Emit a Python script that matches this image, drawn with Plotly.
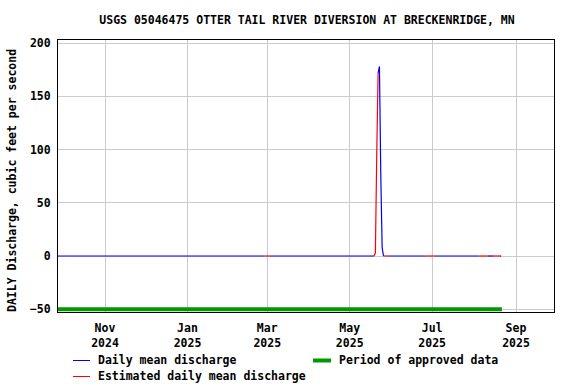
import plotly.graph_objects as go

# ---- data ----
blue_dates = ["2024-09-26", "2025-02-27", "2025-02-27", "2025-03-03", "2025-05-19", "2025-05-19",
              "2025-05-22", "2025-05-23", "2025-05-24", "2025-05-25", "2025-05-26", "2025-05-26",
              "2025-05-30", "2025-06-27", "2025-06-27", "2025-07-03", "2025-08-05", "2025-08-05",
              "2025-08-11", "2025-08-15", "2025-08-15", "2025-08-20", "2025-08-21"]
blue_values = [0, 0, None, 0, 0, None,
               172, 178, 75, 8, 0, None,
               0, 0, None, 0, 0, None,
               0, 0, None, 0, 0]

red_dates = ["2025-02-27", "2025-03-03", "2025-03-03",
             "2025-05-19", "2025-05-20", "2025-05-21", "2025-05-22", "2025-05-22",
             "2025-05-26", "2025-05-30", "2025-05-30",
             "2025-06-27", "2025-07-03", "2025-07-03",
             "2025-08-05", "2025-08-11", "2025-08-11",
             "2025-08-15", "2025-08-20"]
red_values = [0, 0, None,
              0, 3, 95, 172, None,
              0, 0, None,
              0, 0, None,
              0, 0, None,
              0, 0]

approved_dates = ["2024-09-26", "2025-08-21 14:00"]
approved_values = [-50, -50]

tick_dates = ["2024-11-01", "2025-01-01", "2025-03-01", "2025-05-01", "2025-07-01", "2025-09-01"]
tick_labels = ["Nov<br>2024", "Jan<br>2025", "Mar<br>2025", "May<br>2025", "Jul<br>2025", "Sep<br>2025"]
y_ticks = [-50, 0, 50, 100, 150, 200]

title_text = "USGS 05046475 OTTER TAIL RIVER DIVERSION AT BRECKENRIDGE, MN"
y_title = "DAILY Discharge, cubic feet per second"
legend_labels = ["Daily mean discharge", "Estimated daily mean discharge", "Period of approved data"]

# ---- layout geometry ----
W, H = 576, 384
L, R, T, B = 58, 554, 40, 312
PW, PH = R - L, B - T

def px_x(p):
    return (p - L) / PW

def px_y(p):
    return (B - p) / PH

FONT = "DejaVu Sans Mono"
FS = 11.5

fig = go.Figure()
fig.add_trace(go.Scatter(x=approved_dates, y=approved_values, mode="lines",
                         line=dict(color="#009900", width=4), showlegend=False, hoverinfo="skip"))
fig.add_trace(go.Scatter(x=blue_dates, y=blue_values, mode="lines", connectgaps=False,
                         line=dict(color="#0000ff", width=1.2), showlegend=False))
fig.add_trace(go.Scatter(x=red_dates, y=red_values, mode="lines", connectgaps=False,
                         line=dict(color="#ff0000", width=1.2), showlegend=False))

fig.update_layout(
    width=W, height=H,
    margin=dict(l=L, r=W - R, t=T, b=H - B),
    paper_bgcolor="white", plot_bgcolor="white",
    font=dict(family=FONT, size=FS, color="black", weight="bold"),
    title=dict(text=title_text, x=307 / W, xref="container", xanchor="center",
               y=1 - 20 / H, yref="container", yanchor="middle",
               font=dict(family=FONT, size=FS, color="black", weight="bold")),
    showlegend=False,
)
fig.update_xaxes(type="date", range=["2024-09-27 05:42", "2025-09-29 02:36"],
                 tickmode="array", tickvals=tick_dates, ticktext=tick_labels,
                 showgrid=True, gridcolor="#cccccc", gridwidth=1, zeroline=False,
                 showline=True, linecolor="black", linewidth=1, mirror=True,
                 ticks="", ticklabelstandoff=5)
fig.update_yaxes(range=[-52.58, 202.82], tickmode="array", tickvals=y_ticks,
                 showgrid=True, gridcolor="#cccccc", gridwidth=1, zeroline=False,
                 showline=True, linecolor="black", linewidth=1, mirror=True,
                 ticks="", ticklabelstandoff=4)

# y-axis title
fig.add_annotation(text=y_title, textangle=-90, xref="paper", yref="paper",
                   x=px_x(12), y=px_y(181), xanchor="center", yanchor="middle",
                   showarrow=False, font=dict(family=FONT, size=FS, color="black", weight="bold"))

# manual legend
legend_items = [
    (legend_labels[0], "#0000ff", 1, 73, 90, 96, 360),
    (legend_labels[1], "#ff0000", 1, 73, 90, 96, 376),
    (legend_labels[2], "#009900", 4, 313, 331, 337, 360),
]
for label, color, lw, x0, x1, tx, ty in legend_items:
    fig.add_shape(type="line", xref="paper", yref="paper",
                  x0=px_x(x0), x1=px_x(x1), y0=px_y(ty + 0.5), y1=px_y(ty + 0.5),
                  line=dict(color=color, width=lw))
    fig.add_annotation(text=label, xref="paper", yref="paper", x=px_x(tx), y=px_y(ty),
                       xanchor="left", yanchor="middle", showarrow=False,
                       font=dict(family=FONT, size=FS, color="black", weight="bold"))

fig.write_html("out.html", config={"displayModeBar": False},
               post_script="document.body.style.margin='0px';")
